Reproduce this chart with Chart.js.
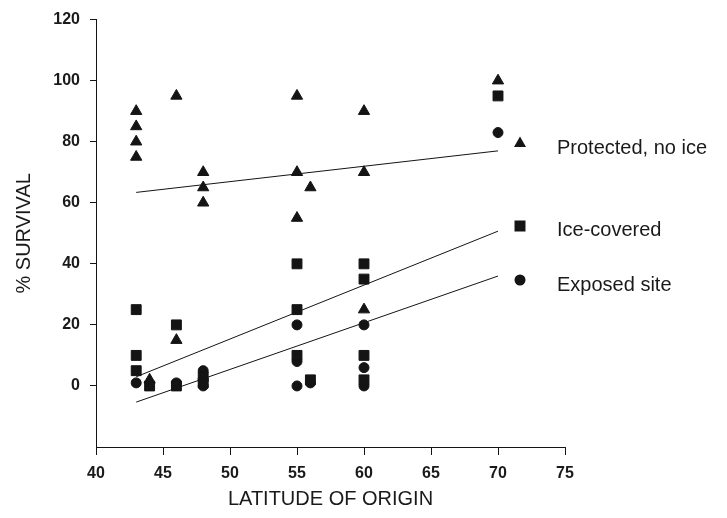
<!DOCTYPE html>
<html>
<head>
<meta charset="utf-8">
<script src="https://cdn.jsdelivr.net/npm/chart.js@4/dist/chart.umd.min.js"></script>
<style>
    html, body { margin: 0; padding: 0; background: #fff; }
    #wrap { width: 727px; height: 518px; }
</style>
</head>
<body>
<div id="wrap"><canvas id="chart"></canvas></div>
<script>
// survival (%) by latitude of origin, three site types
const protLat = [43, 43, 43, 43, 44, 46, 46, 48, 48, 48, 55, 55, 55, 56, 60, 60, 60, 70];
const protVal = [90, 85, 80, 75, 2, 95, 15, 70, 65, 60, 95, 70, 55, 65, 90, 70, 25, 100];

const iceLat = [43, 43, 43, 44, 46, 46, 48, 48, 55, 55, 55, 56, 60, 60, 60, 60, 70];
const iceVal = [25, 10, 5, 0, 20, 0, 3, 1, 40, 25, 10, 2, 40, 35, 10, 2, 95];

const expLat = [43, 46, 48, 48, 55, 55, 55, 56, 60, 60, 60, 70];
const expVal = [1, 1, 5, 0, 20, 8, 0, 1, 20, 6, 0, 83];

// regression line end points
const fitLat = [43, 70];
const fitProt = [63.4, 77];
const fitIce = [3, 50.7];
const fitExp = [-5.3, 36];

const legendLabels = ['Protected, no ice', 'Ice-covered', 'Exposed site'];
const legendShapes = ['triangle', 'rect', 'circle'];

const ink = '#141414';
const textColor = '#1a1a1a';
const fontFamily = '"Liberation Sans", Arial, sans-serif';

function toPoints(xs, ys) {
    return xs.map((x, i) => ({ x: x, y: ys[i] }));
}

function fitLine(ys) {
    return {
        type: 'line',
        data: toPoints(fitLat, ys),
        borderColor: ink,
        borderWidth: 1,
        pointRadius: 0,
        fill: false
    };
}

function markers(xs, ys, style, radius) {
    return {
        type: 'scatter',
        data: toPoints(xs, ys),
        pointStyle: style,
        pointRadius: radius,
        pointBorderWidth: 1,
        backgroundColor: ink,
        borderColor: ink
    };
}

// key drawn at the right of the plot, like the original figure
const sideKey = {
    id: 'sideKey',
    afterDraw(chart) {
        const ctx = chart.ctx;
        const x0 = chart.chartArea.right - 45;
        const rows = [142, 226, 280];
        ctx.save();
        ctx.fillStyle = ink;
        legendShapes.forEach((shape, i) => {
            const y = rows[i];
            ctx.beginPath();
            if (shape === 'triangle') {
                ctx.moveTo(x0, y - 5.5);
                ctx.lineTo(x0 + 6, y + 5);
                ctx.lineTo(x0 - 6, y + 5);
                ctx.closePath();
            } else if (shape === 'rect') {
                ctx.rect(x0 - 5.5, y - 5.5, 11, 11);
            } else {
                ctx.arc(x0, y, 5.5, 0, Math.PI * 2);
            }
            ctx.fill();
        });
        ctx.fillStyle = textColor;
        ctx.font = '20px ' + fontFamily;
        ctx.textBaseline = 'middle';
        ctx.textAlign = 'left';
        const textRows = [148, 230, 285];
        legendLabels.forEach((label, i) => {
            ctx.fillText(label, x0 + 37, textRows[i]);
        });
        ctx.restore();
    }
};

new Chart(document.getElementById('chart'), {
    type: 'scatter',
    data: {
        datasets: [
            fitLine(fitProt),
            fitLine(fitIce),
            fitLine(fitExp),
            markers(protLat, protVal, 'triangle', 6.5),
            markers(iceLat, iceVal, 'rect', 7),
            markers(expLat, expVal, 'circle', 5)
        ]
    },
    options: {
        responsive: true,
        maintainAspectRatio: false,
        animation: false,
        layout: { padding: { top: 16, right: 162, bottom: 0, left: 0 } },
        plugins: {
            legend: { display: false },
            tooltip: { enabled: false }
        },
        scales: {
            x: {
                type: 'linear',
                min: 40,
                max: 75,
                afterFit: (scale) => { scale.height = 71; },
                ticks: {
                    stepSize: 5,
                    padding: 9,
                    color: textColor,
                    font: { family: fontFamily, size: 16, weight: 'bold' }
                },
                grid: { drawOnChartArea: false, drawTicks: true, tickLength: 8, color: ink },
                border: { display: true, color: ink, width: 1 },
                title: {
                    display: true,
                    text: 'LATITUDE OF ORIGIN',
                    color: textColor,
                    padding: { top: 0, bottom: 7 },
                    font: { family: fontFamily, size: 20 }
                }
            },
            y: {
                type: 'linear',
                min: -20,
                max: 120,
                afterFit: (scale) => { scale.width = 96; },
                ticks: {
                    stepSize: 20,
                    padding: 10,
                    color: textColor,
                    font: { family: fontFamily, size: 16, weight: 'bold' },
                    callback: (v) => v < 0 ? '' : v
                },
                grid: {
                    drawOnChartArea: false,
                    drawTicks: true,
                    tickLength: 6,
                    color: (c) => (c.tick && c.tick.value < 0) ? 'rgba(0,0,0,0)' : ink
                },
                border: { display: true, color: ink, width: 1 },
                title: {
                    display: true,
                    text: '% SURVIVAL',
                    color: textColor,
                    padding: { top: 12, bottom: 0 },
                    font: { family: fontFamily, size: 20 }
                }
            }
        }
    },
    plugins: [sideKey]
});
</script>
</body>
</html>
